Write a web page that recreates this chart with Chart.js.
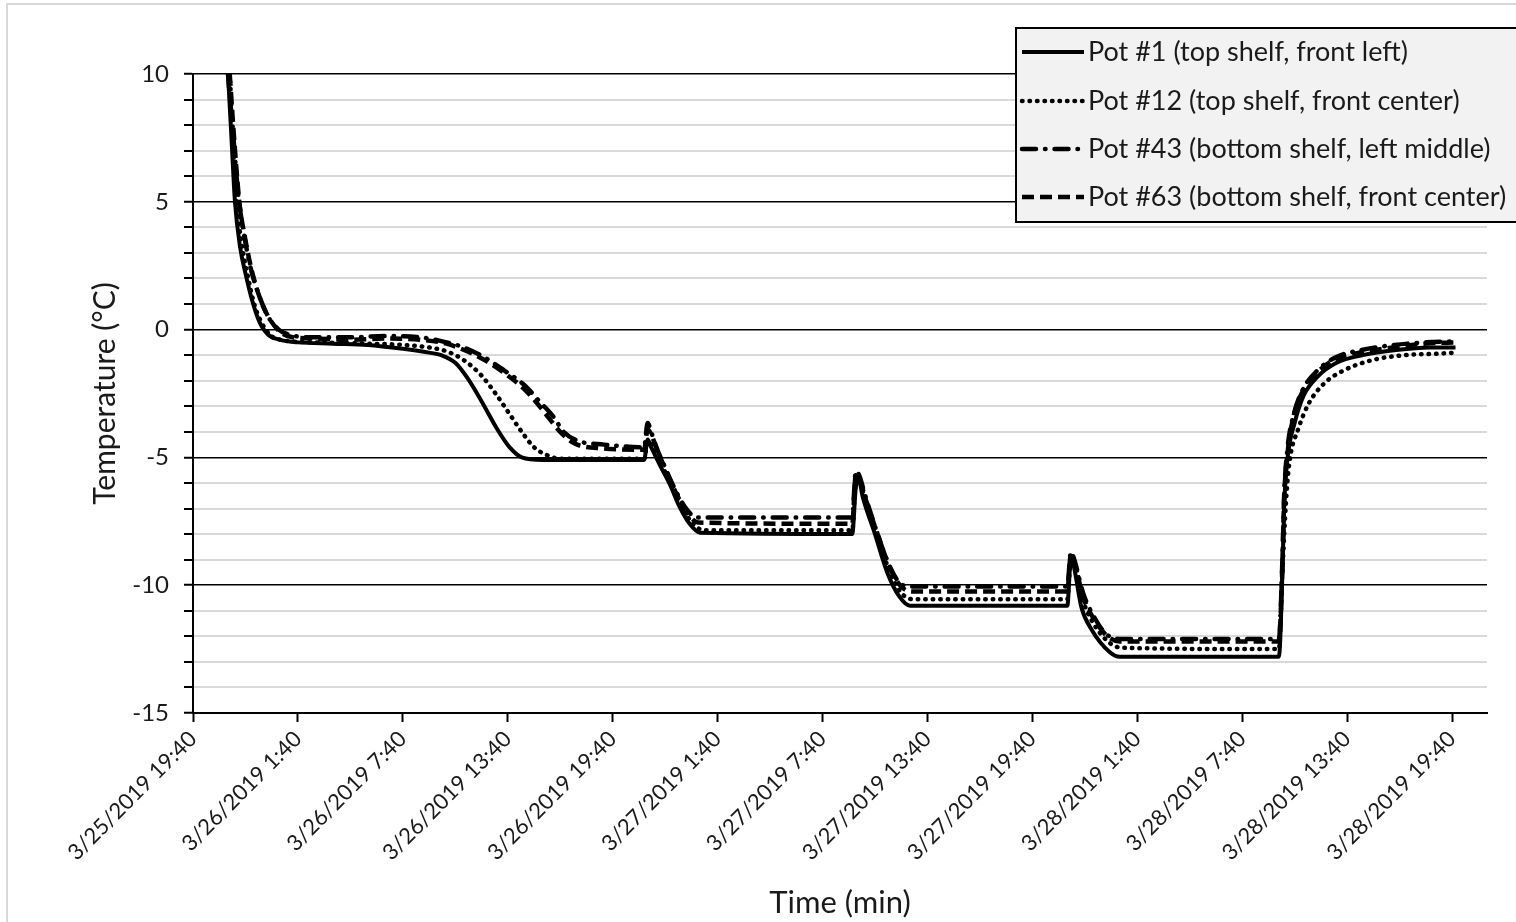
<!DOCTYPE html>
<html>
<head>
<meta charset="utf-8">
<script src="https://cdn.jsdelivr.net/npm/chart.js@4.4.1/dist/chart.umd.min.js"></script>
<style>
  html, body { margin: 0; padding: 0; background: #fff; }
  canvas { display: block; }
</style>
</head>
<body>
<canvas id="chart" width="1516" height="922"></canvas>
<script>
// hours after 3/25/2019 19:40
const xTickHours = [0, 6, 12, 18, 24, 30, 36, 42, 48, 54, 60, 66, 72];
const xTickLabels = [
  '3/25/2019 19:40', '3/26/2019 1:40', '3/26/2019 7:40', '3/26/2019 13:40',
  '3/26/2019 19:40', '3/27/2019 1:40', '3/27/2019 7:40', '3/27/2019 13:40',
  '3/27/2019 19:40', '3/28/2019 1:40', '3/28/2019 7:40', '3/28/2019 13:40',
  '3/28/2019 19:40'
];
const yTickValues = [-15, -10, -5, 0, 5, 10];

const seriesNames = [
  'Pot #1 (top shelf, front left)',
  'Pot #12 (top shelf, front center)',
  'Pot #43 (bottom shelf, left middle)',
  'Pot #63 (bottom shelf, front center)'
];

const pot1Hours = [2.0, 2.2, 2.4, 2.7, 3.0, 3.4, 3.8, 4.3, 5.0, 6.0, 8.0, 10.0, 12.0, 13.5, 14.2, 15.0, 15.7, 16.5, 17.4, 18.1, 18.8, 20.0, 24.0, 25.8, 26.0, 26.2, 26.7, 27.3, 27.8, 28.4, 29.0, 37.7, 37.9, 38.05, 38.3, 39.0, 39.7, 40.4, 41.0, 50.0, 50.2, 50.35, 50.8, 51.4, 52.4, 53.0, 62.1, 62.3, 62.4, 62.6, 63.0, 63.5, 64.3, 65.4, 66.9, 68.8, 70.7, 72.2];
const pot1Temps = [10, 7.5, 5.0, 3.2, 2.2, 1.1, 0.3, -0.2, -0.4, -0.5, -0.55, -0.6, -0.75, -0.9, -1.0, -1.3, -1.9, -2.8, -3.9, -4.6, -5.0, -5.1, -5.1, -5.1, -4.3, -4.6, -5.3, -6.1, -6.9, -7.6, -7.95, -8.0, -6.2, -5.8, -6.55, -8.0, -9.5, -10.45, -10.8, -10.8, -9.0, -9.2, -10.85, -11.75, -12.6, -12.8, -12.8, -9.5, -6.9, -5.0, -3.65, -2.6, -1.85, -1.3, -1.0, -0.8, -0.7, -0.7];

const pot12Hours = [2.1, 2.3, 2.5, 2.8, 3.1, 3.5, 3.9, 4.4, 5.0, 7.0, 10.0, 12.0, 13.5, 14.5, 15.5, 16.5, 17.3, 18.1, 18.8, 19.5, 20.2, 21.0, 25.8, 26.0, 26.3, 26.8, 27.4, 28.0, 28.6, 29.2, 37.7, 37.9, 38.1, 38.4, 39.1, 39.8, 40.5, 41.2, 50.0, 50.2, 50.4, 50.9, 51.5, 52.5, 53.2, 62.1, 62.3, 62.5, 62.7, 63.2, 63.8, 64.7, 65.8, 67.4, 69.3, 71.0, 72.3];
const pot12Temps = [10, 7.5, 5.0, 3.3, 2.2, 1.0, 0.3, -0.2, -0.4, -0.5, -0.55, -0.6, -0.7, -0.85, -1.2, -1.8, -2.5, -3.3, -4.0, -4.6, -4.9, -5.05, -5.05, -4.4, -4.5, -5.3, -6.1, -7.0, -7.6, -7.85, -7.85, -6.0, -5.9, -6.6, -8.0, -9.4, -10.3, -10.55, -10.55, -9.0, -9.1, -10.6, -11.5, -12.3, -12.45, -12.5, -9.5, -6.8, -5.2, -3.9, -2.9, -2.1, -1.6, -1.2, -1.0, -0.95, -0.9];

const pot43Hours = [2.0, 2.3, 2.6, 2.9, 3.3, 3.8, 4.3, 4.9, 5.5, 7.0, 9.0, 11.0, 13.0, 14.5, 15.5, 16.7, 17.8, 19.0, 19.8, 20.6, 21.2, 22.0, 23.5, 25.8, 26.0, 26.2, 26.5, 27.0, 27.6, 28.2, 28.8, 37.7, 37.9, 38.1, 38.4, 39.1, 39.8, 40.4, 41.0, 50.0, 50.2, 50.4, 50.9, 51.5, 52.2, 53.0, 62.1, 62.3, 62.4, 62.6, 63.0, 63.5, 64.3, 65.3, 66.8, 68.7, 70.5, 72.3];
const pot43Temps = [10, 7.6, 5.2, 3.8, 2.4, 1.3, 0.5, 0.0, -0.2, -0.3, -0.3, -0.25, -0.3, -0.5, -0.7, -1.1, -1.6, -2.2, -2.8, -3.4, -4.0, -4.35, -4.5, -4.6, -3.65, -4.0, -4.6, -5.4, -6.3, -7.0, -7.35, -7.35, -5.55, -5.7, -6.4, -7.9, -9.2, -9.9, -10.05, -10.05, -8.7, -9.0, -10.3, -11.2, -11.9, -12.1, -12.1, -9.0, -6.5, -4.6, -3.2, -2.3, -1.6, -1.1, -0.8, -0.6, -0.5, -0.45];

const pot63Hours = [2.1, 2.35, 2.65, 3.0, 3.4, 3.9, 4.4, 5.0, 5.7, 7.0, 9.0, 11.0, 13.0, 14.5, 15.5, 16.7, 17.8, 18.9, 19.7, 20.4, 21.0, 21.8, 23.5, 25.8, 26.0, 26.2, 26.6, 27.1, 27.7, 28.3, 28.9, 37.7, 37.9, 38.1, 38.5, 39.2, 39.9, 40.5, 41.1, 50.0, 50.2, 50.4, 50.9, 51.5, 52.3, 53.0, 62.1, 62.3, 62.4, 62.6, 62.9, 63.4, 64.2, 65.2, 66.7, 68.6, 70.4, 72.3];
const pot63Temps = [10, 7.5, 5.0, 3.5, 2.2, 1.1, 0.4, -0.1, -0.3, -0.35, -0.4, -0.35, -0.4, -0.55, -0.8, -1.2, -1.7, -2.3, -2.9, -3.5, -4.0, -4.45, -4.65, -4.7, -3.9, -4.1, -4.8, -5.6, -6.5, -7.2, -7.55, -7.6, -5.7, -5.85, -6.7, -8.1, -9.4, -10.05, -10.25, -10.25, -8.8, -9.1, -10.45, -11.3, -12.0, -12.2, -12.2, -9.2, -6.6, -4.8, -3.5, -2.5, -1.75, -1.2, -0.9, -0.7, -0.55, -0.5];

const FONT = 'Lato, "Open Sans", sans-serif';

function points(hours, temps) {
  return hours.map((h, i) => ({ x: h, y: temps[i] }));
}

const lineStyles = [
  { dash: [], cap: 'butt', width: 4 },
  { dash: [0.5, 7], cap: 'round', width: 4.5 },
  { dash: [14, 9, 0.5, 9], cap: 'round', width: 4.5 },
  { dash: [12, 6], cap: 'butt', width: 4.5 }
];

const allData = [
  points(pot1Hours, pot1Temps),
  points(pot12Hours, pot12Temps),
  points(pot43Hours, pot43Temps),
  points(pot63Hours, pot63Temps)
];

const datasets = allData.map((d, i) => ({
  label: seriesNames[i],
  data: d,
  borderColor: '#000',
  borderWidth: lineStyles[i].width,
  borderDash: lineStyles[i].dash,
  borderCapStyle: lineStyles[i].cap,
  borderJoinStyle: 'round',
  pointRadius: 0,
  cubicInterpolationMode: 'monotone',
  fill: false
}));

// outer chart frame
const framePlugin = {
  id: 'frame',
  beforeDraw(chart) {
    const ctx = chart.ctx;
    ctx.save();
    ctx.fillStyle = '#fff';
    ctx.fillRect(0, 0, chart.width, chart.height);
    ctx.strokeStyle = '#d9d9d9';
    ctx.lineWidth = 2;
    ctx.strokeRect(7, 4, chart.width + 20, chart.height + 20);
    ctx.restore();
  }
};

// legend box drawn like the original, top right
const legendPlugin = {
  id: 'boxLegend',
  afterDraw(chart) {
    const ctx = chart.ctx;
    const x0 = 1016, y0 = 28, x1 = 1530, y1 = 222;
    ctx.save();
    ctx.fillStyle = '#f2f2f2';
    ctx.fillRect(x0, y0, x1 - x0, y1 - y0);
    ctx.strokeStyle = '#000';
    ctx.lineWidth = 2;
    ctx.strokeRect(x0, y0, x1 - x0, y1 - y0);
    const rows = [52, 101, 149, 197];
    chart.data.datasets.forEach((ds, i) => {
      const y = rows[i];
      ctx.strokeStyle = ds.borderColor;
      ctx.lineWidth = ds.borderWidth;
      ctx.setLineDash(ds.borderDash);
      ctx.lineCap = ds.borderCapStyle;
      ctx.beginPath();
      ctx.moveTo(1022, y);
      ctx.lineTo(1084, y);
      ctx.stroke();
      ctx.setLineDash([]);
      ctx.fillStyle = '#1a1a1a';
      ctx.font = '27px ' + FONT;
      ctx.textBaseline = 'middle';
      ctx.textAlign = 'left';
      ctx.fillText(ds.label, 1088, y);
    });
    ctx.restore();
  }
};

new Chart(document.getElementById('chart'), {
  type: 'line',
  data: { datasets },
  options: {
    responsive: false,
    animation: false,
    devicePixelRatio: 1,
    layout: { padding: { top: 74, right: 29, left: 0, bottom: 0 } },
    plugins: {
      legend: { display: false },
      tooltip: { enabled: false }
    },
    scales: {
      x: {
        type: 'linear',
        min: 0,
        max: 74,
        afterBuildTicks: s => { s.ticks = xTickHours.map(v => ({ value: v })); },
        afterFit: s => { s.height = 922 - 713; },
        ticks: {
          autoSkip: false,
          minRotation: 45,
          maxRotation: 45,
          padding: 4,
          color: '#1a1a1a',
          font: { family: FONT, size: 22 },
          callback: v => xTickLabels[xTickHours.indexOf(v)]
        },
        grid: {
          drawOnChartArea: false,
          drawTicks: true,
          tickLength: 9,
          tickColor: '#000',
          tickWidth: 2
        },
        border: { display: true, color: '#000', width: 2 },
        title: {
          display: true,
          text: 'Time (min)',
          color: '#1a1a1a',
          font: { family: FONT, size: 31 },
          padding: { top: 0, bottom: 0 }
        }
      },
      y: {
        type: 'linear',
        min: -15,
        max: 10,
        afterFit: s => { s.width = 193; },
        ticks: {
          stepSize: 1,
          autoSkip: false,
          padding: 15,
          color: '#1a1a1a',
          font: { family: FONT, size: 24 },
          callback: v => (yTickValues.includes(v) ? String(v) : '')
        },
        grid: {
          color: c => (c.tick && yTickValues.includes(c.tick.value) ? '#000' : '#d9d9d9'),
          lineWidth: c => (c.tick && yTickValues.includes(c.tick.value) ? 1.5 : 2),
          drawTicks: true,
          tickLength: 9,
          tickColor: '#000',
          tickWidth: 2
        },
        border: { display: true, color: '#000', width: 2 },
        title: {
          display: true,
          text: 'Temperature (°C)',
          color: '#1a1a1a',
          font: { family: FONT, size: 30 },
          padding: { top: 87, bottom: 0 }
        }
      }
    }
  },
  plugins: [framePlugin, legendPlugin]
});
</script>
</body>
</html>
